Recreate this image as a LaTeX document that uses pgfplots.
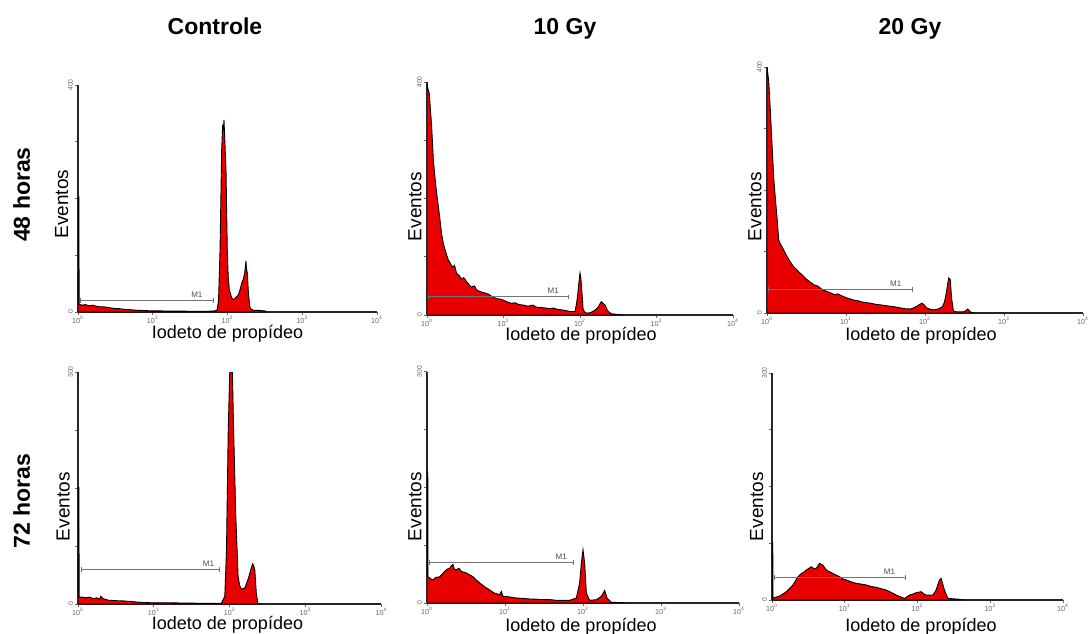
\documentclass[border=0pt]{standalone}
\usepackage{fontspec}
\setmainfont{Liberation Sans}
\usepackage{pgfplots}
\pgfplotsset{compat=1.18}
\definecolor{histred}{RGB}{232,0,0}
\pgfplotsset{
  panel/.style={scale only axis, axis lines*=left,
    axis line style={line width=0.6pt, black!85},
    xmin=0, xmax=4, ymin=0,
    xtick={0,1,2,3,4},
    xticklabels={10\textsuperscript{0},10\textsuperscript{1},10\textsuperscript{2},10\textsuperscript{3},10\textsuperscript{4}},
    xticklabel style={font=\fontsize{3.6}{3.6}\selectfont, text=black!60, inner sep=0.3pt},
    yticklabel style={font=\fontsize{3.4}{3.4}\selectfont, text=black!60, rotate=90, anchor=south, inner sep=0.8pt},
    tick align=outside, major tick length=1.5pt,
    tick style={black!60, line width=0.4pt}},
  hist/.style={fill=histred, draw=black, line width=0.45pt},
  mone/.style={black!55, line width=0.5pt, mark=|, mark size=1.2pt},
}
\newcommand{\mlab}{\fontsize{4}{4}\selectfont}
\begin{document}
\begin{tikzpicture}
\path[use as bounding box] (0,0) rectangle (545pt,-316.5pt);
% ---------- 48 h Controle
\begin{axis}[panel, at={(39pt,-156pt)}, anchor=south west, width=149.5pt, height=113.5pt,
  ymax=400, ytick={0,100,200,300,400}, yticklabels={0,,,,400}]
\addplot[hist] coordinates {(0,0) (0,203) (0.012,203) (0.015,14) (0.05,12) (0.1,13) (0.15,11) (0.2,12) (0.25,10) (0.3,9) (0.35,9) (0.4,8) (0.45,7) (0.5,6) (0.55,6) (0.6,5) (0.7,4) (0.8,3) (0.9,2.5) (1.0,2) (1.1,2) (1.2,1.5) (1.4,1.5) (1.6,1.2) (1.8,1.5) (1.86,3) (1.88,20) (1.90,109) (1.922,285) (1.935,330) (1.945,320) (1.953,338) (1.965,300) (1.98,250) (1.997,109) (2.01,60) (2.025,39) (2.056,25) (2.078,22) (2.1,24) (2.12,27) (2.145,30) (2.167,39) (2.19,51) (2.21,57) (2.23,69) (2.247,90) (2.255,75) (2.265,69) (2.28,33) (2.30,8) (2.31,6) (2.345,3) (2.4,3) (2.5,2) (2.52,0)} \closedcycle;
\addplot[mone] coordinates {(0.04,20) (1.81,20)};
\node[font=\mlab, text=black!70] at (axis cs:1.59,30) {M1};
\end{axis}
% ---------- 48 h 10 Gy
\begin{axis}[panel, at={(213.5pt,-157.5pt)}, anchor=south west, width=153pt, height=116.5pt,
  ymax=400, ytick={0,100,200,300,400}, yticklabels={0,,,,400}]
\addplot[hist] coordinates {(0,395) (0.03,380) (0.061,323) (0.083,266) (0.105,235) (0.126,209) (0.15,185) (0.17,163) (0.19,140) (0.213,123) (0.24,110) (0.279,94) (0.3,90) (0.33,82) (0.36,85) (0.388,71) (0.42,68) (0.45,62) (0.48,64) (0.519,57) (0.55,52) (0.58,48) (0.62,50) (0.649,43) (0.7,40) (0.75,38) (0.8,36) (0.824,34) (0.87,30) (0.92,28) (0.97,27) (1.04,23) (1.1,20) (1.15,21) (1.2,18) (1.26,17) (1.32,15) (1.38,17) (1.44,13) (1.48,13) (1.55,12) (1.6,11) (1.65,12) (1.695,10) (1.75,9) (1.8,8) (1.87,6) (1.935,6) (1.955,20) (1.97,34) (1.985,55) (2.0,72) (2.01,65) (2.02,49) (2.04,11) (2.06,5) (2.09,3) (2.13,4) (2.17,6) (2.21,10) (2.24,14) (2.26,19) (2.28,23) (2.30,20) (2.33,17) (2.35,10) (2.37,6) (2.41,2) (2.5,1) (2.57,0)} \closedcycle;
\addplot[mone] coordinates {(0.02,31) (1.85,31)};
\node[font=\mlab, text=black!70] at (axis cs:1.65,42) {M1};
\end{axis}
% ---------- 48 h 20 Gy
\begin{axis}[panel, at={(383.5pt,-156.5pt)}, anchor=south west, width=158pt, height=123pt,
  ymax=400, ytick={0,100,200,300,400}, yticklabels={0,,,,400}]
\addplot[hist] coordinates {(0,400) (0.021,378) (0.042,330) (0.063,275) (0.084,222) (0.1,195) (0.118,168) (0.13,150) (0.148,119) (0.17,112) (0.19,108) (0.22,100) (0.253,92) (0.29,84) (0.338,75) (0.38,70) (0.443,62) (0.5,55) (0.55,50) (0.591,46) (0.64,44) (0.7,38) (0.76,35) (0.8,33) (0.85,30) (0.9,31) (0.928,29) (1.0,25) (1.05,23) (1.097,21) (1.15,20) (1.2,18) (1.25,17) (1.308,16) (1.38,14) (1.45,13) (1.5,12) (1.561,11) (1.62,10) (1.7,8) (1.75,7) (1.814,6.5) (1.85,8) (1.899,11) (1.93,14) (1.962,16) (1.99,13) (2.025,8) (2.07,6) (2.11,5) (2.15,6) (2.194,8) (2.23,12) (2.25,20) (2.27,33) (2.29,50) (2.30,57) (2.31,56) (2.32,54) (2.33,35) (2.34,21) (2.36,3) (2.4,2) (2.49,2) (2.52,4) (2.54,6.5) (2.56,4) (2.57,2) (2.62,0)} \closedcycle;
\addplot[mone] coordinates {(0.02,38) (1.84,38)};
\node[font=\mlab, text=black!70] at (axis cs:1.63,47) {M1};
\end{axis}
% ---------- 72 h Controle
\begin{axis}[panel, at={(39pt,-302pt)}, anchor=south west, width=151.75pt, height=116pt,
  ymax=300, ytick={0,75,150,225,300}, yticklabels={0,,,,300}]
\addplot[hist] coordinates {(0,0) (0,151) (0.012,151) (0.015,9) (0.05,9) (0.1,8) (0.15,9) (0.2,7) (0.25,8) (0.286,6) (0.3,10) (0.33,7) (0.4,5) (0.506,4.3) (0.6,4) (0.726,3) (0.85,2) (0.946,1.7) (1.166,1.7) (1.4,1.2) (1.606,1) (1.89,1) (1.935,10) (1.957,70) (1.98,225) (2.0,300) (2.035,300) (2.05,229) (2.08,113) (2.11,36) (2.13,24) (2.156,19) (2.2,21) (2.245,33) (2.276,44) (2.3,52) (2.315,50) (2.33,44) (2.35,14) (2.37,1) (2.4,0)} \closedcycle;
\addplot[mone] coordinates {(0.04,45) (1.87,45)};
\node[font=\mlab, text=black!70] at (axis cs:1.72,52) {M1};
\end{axis}
% ---------- 72 h 10 Gy
\begin{axis}[panel, at={(213.5pt,-301.5pt)}, anchor=south west, width=156pt, height=115.75pt,
  ymax=300, ytick={0,75,150,225,300}, yticklabels={0,,,,300}]
\addplot[hist] coordinates {(0,0) (0,170) (0.01,170) (0.013,34) (0.04,32) (0.077,30) (0.11,33) (0.162,34) (0.2,38) (0.226,41) (0.26,44) (0.291,45) (0.31,48) (0.333,50) (0.35,44) (0.376,43) (0.41,45) (0.44,41) (0.47,40) (0.504,39) (0.54,37) (0.59,34) (0.63,30) (0.675,26) (0.74,21) (0.803,17) (0.86,13) (0.932,10.8) (0.953,15) (0.974,8.6) (1.05,8) (1.145,6.5) (1.23,6) (1.316,5.2) (1.4,5) (1.487,4.3) (1.57,4.5) (1.658,3.5) (1.75,3.5) (1.829,3.5) (1.915,6.5) (1.957,26) (1.979,52) (2.0,69) (2.021,52) (2.043,13) (2.085,3.5) (2.171,4.3) (2.235,8.6) (2.278,16.4) (2.308,6.5) (2.363,0.9) (2.5,0.5) (2.52,0)} \closedcycle;
\addplot[mone] coordinates {(0.034,53) (1.88,53)};
\node[font=\mlab, text=black!70] at (axis cs:1.72,60) {M1};
\end{axis}
% ---------- 72 h 20 Gy
\begin{axis}[panel, at={(386pt,-300pt)}, anchor=south west, width=145.5pt, height=113.5pt,
  ymax=300, ytick={0,75,150,225,300}, yticklabels={0,,,,300}]
\addplot[hist] coordinates {(0,0) (0,76) (0.01,76) (0.014,2.2) (0.06,4) (0.105,5.3) (0.15,8) (0.197,11) (0.24,15) (0.288,19.9) (0.357,30.9) (0.403,35) (0.44,37) (0.471,39.7) (0.51,42) (0.54,44) (0.58,41) (0.609,42) (0.654,48.5) (0.7,46) (0.746,39.7) (0.8,37) (0.838,35) (0.88,33) (0.929,30.9) (0.97,28) (1.021,26.5) (1.09,24) (1.158,22) (1.23,21) (1.295,19.9) (1.36,18) (1.432,16.8) (1.5,15) (1.57,13.2) (1.64,10) (1.707,6.6) (1.77,4) (1.822,2.2) (1.89,6.6) (1.94,8) (1.982,9.7) (2.05,11) (2.09,8) (2.119,6.6) (2.21,6.6) (2.25,12) (2.279,19.9) (2.3,26) (2.325,28.7) (2.35,20) (2.37,13.2) (2.416,2.2) (2.5,1.5) (2.577,1) (2.622,0)} \closedcycle;
\addplot[mone] coordinates {(0.037,29.6) (1.835,29.6)};
\node[font=\mlab, text=black!70] at (axis cs:1.615,37.5) {M1};
\end{axis}
% ---------- texts
\begin{scope}[every node/.style={inner sep=0pt}]
\node[font=\fontsize{11.5}{12}\selectfont\bfseries, anchor=base] at (107.5pt,-17.25pt) {Controle};
\node[font=\fontsize{11.5}{12}\selectfont\bfseries, anchor=base] at (282.5pt,-17.25pt) {10 Gy};
\node[font=\fontsize{11.5}{12}\selectfont\bfseries, anchor=base] at (455pt,-17.25pt) {20 Gy};
\node[font=\fontsize{11.5}{12}\selectfont\bfseries, rotate=90] at (10.85pt,-97.25pt) {48 horas};
\node[font=\fontsize{11.5}{12}\selectfont\bfseries, rotate=90] at (10.85pt,-250.5pt) {72 horas};
\foreach \x/\y in {30.85/-102, 207.5/-103.35, 377.5/-103.35, 31.65/-253.35, 207.5/-253.35, 378.35/-253.35}
  \node[font=\fontsize{9.5}{10}\selectfont, rotate=90] at (\x pt,\y pt) {Eventos};
\foreach \x/\y in {113.75/-167, 290.5/-168, 460.5/-168, 113.75/-312.6, 290.5/-313.2, 460.5/-313.2}
  \node[font=\fontsize{9}{10}\selectfont] at (\x pt,\y pt) {Iodeto de propídeo};
\end{scope}
\end{tikzpicture}
\end{document}
